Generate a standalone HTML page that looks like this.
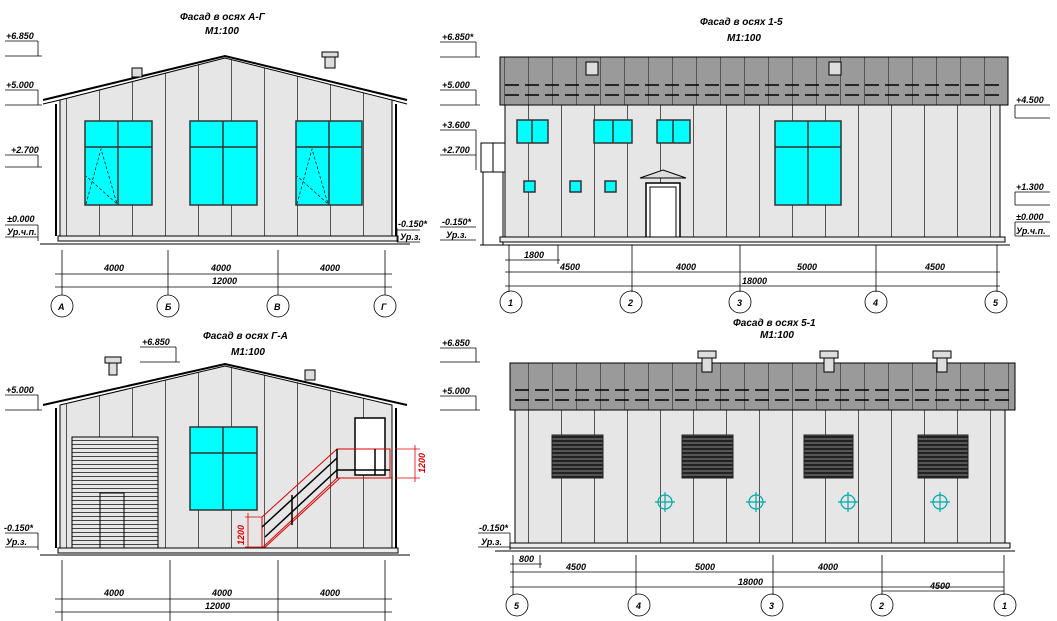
<!DOCTYPE html>
<html><head><meta charset="utf-8"><style>
html,body{margin:0;padding:0;background:#fff}
svg{display:block}
text{font-family:"Liberation Sans",sans-serif;font-style:italic;font-weight:bold;font-size:9px;fill:#000}
.t{font-size:10px}
</style></head><body>
<svg width="1057" height="621" viewBox="0 0 1057 621" xmlns="http://www.w3.org/2000/svg">
<defs>
<pattern id="pw" width="33" height="10" patternUnits="userSpaceOnUse">
<rect width="33" height="10" fill="#e6e6e6"/><line x1="0.5" y1="0" x2="0.5" y2="10" stroke="#555" stroke-width="1"/>
</pattern>
<pattern id="pr" width="24" height="60" patternUnits="userSpaceOnUse">
<rect width="24" height="60" fill="#9a9a9a"/><line x1="0.5" y1="0" x2="0.5" y2="60" stroke="#555"/>
</pattern>
<pattern id="lv" width="10" height="4" patternUnits="userSpaceOnUse">
<rect width="10" height="4" fill="#555"/><rect y="0" width="10" height="2" fill="#222"/>
</pattern>
<pattern id="rd" width="10" height="4" patternUnits="userSpaceOnUse">
<rect width="10" height="4" fill="#e6e6e6"/><line x1="0" y1="0.5" x2="10" y2="0.5" stroke="#444"/>
</pattern>
</defs>
<g stroke="#000" fill="none" stroke-width="1">

<!-- ========== TOP LEFT ========== -->
<text class="t" x="180" y="20" stroke="none">Фасад в осях А-Г</text>
<text class="t" x="205" y="34" stroke="none">М1:100</text>
<polygon points="60,100 225,58 392,100 392,238 60,238" fill="url(#pw)" stroke="#000"/>
<polyline points="43,100 225,56 407,100" stroke-width="2"/>
<line x1="43" y1="104" x2="60" y2="100"/><line x1="392" y1="100" x2="407" y2="104"/>
<line x1="56" y1="104" x2="56" y2="236" stroke-width="2"/><line x1="396" y1="104" x2="396" y2="236" stroke-width="2"/>
<rect x="132" y="68" width="10" height="9" fill="#ddd"/><rect x="325" y="56" width="10" height="12" fill="#ddd"/><rect x="322" y="52" width="16" height="5" fill="#ddd"/>
<g fill="#00ffff" stroke="#333" stroke-width="1.5">
<rect x="85" y="121" width="67" height="84"/><rect x="190" y="121" width="67" height="84"/><rect x="296" y="121" width="66" height="84"/>
</g>
<g stroke="#333" stroke-width="1.5">
<line x1="118" y1="121" x2="118" y2="205"/><line x1="85" y1="147" x2="152" y2="147"/>
<line x1="223" y1="121" x2="223" y2="205"/><line x1="190" y1="147" x2="257" y2="147"/>
<line x1="329" y1="121" x2="329" y2="205"/><line x1="296" y1="147" x2="362" y2="147"/>
</g>
<g stroke-dasharray="3,2" stroke-width="0.7"><polyline points="86,204 101,149 117,204 86,176"/><polyline points="297,204 312,149 328,204 297,176"/></g>
<rect x="58" y="236" width="340" height="5" fill="#eee"/><line x1="40" y1="244" x2="410" y2="244"/>
<!-- levels -->
<g stroke-width="0.8"><line x1="5" y1="41" x2="38" y2="41"/><line x1="38" y1="41" x2="38" y2="56"/><line x1="5" y1="56" x2="42" y2="56"/>
<line x1="5" y1="90" x2="38" y2="90"/><line x1="38" y1="90" x2="38" y2="105"/><line x1="5" y1="105" x2="42" y2="105"/>
<line x1="5" y1="155" x2="38" y2="155"/><line x1="38" y1="155" x2="38" y2="167"/><line x1="5" y1="167" x2="42" y2="167"/>
<line x1="5" y1="225" x2="38" y2="225"/><line x1="5" y1="237" x2="38" y2="237"/><line x1="38" y1="225" x2="38" y2="241"/>
<line x1="397" y1="230" x2="420" y2="230"/><line x1="397" y1="242" x2="420" y2="242"/><line x1="397" y1="228" x2="397" y2="242"/></g>
<g stroke="none"><text x="6" y="39">+6.850</text><text x="6" y="88">+5.000</text><text x="11" y="153">+2.700</text><text x="7" y="222">±0.000</text><text x="7" y="235">Ур.ч.п.</text><text x="398" y="227">-0.150*</text><text x="400" y="240">Ур.з.</text></g>
<!-- dims -->
<g stroke-width="0.8"><line x1="55" y1="274" x2="392" y2="274"/><line x1="55" y1="287" x2="392" y2="287"/>
<line x1="62" y1="250" x2="62" y2="295"/><line x1="168" y1="250" x2="168" y2="295"/><line x1="278" y1="250" x2="278" y2="295"/><line x1="385" y1="250" x2="385" y2="295"/>
<circle cx="62" cy="306" r="11"/><circle cx="168" cy="306" r="11"/><circle cx="278" cy="306" r="11"/><circle cx="385" cy="306" r="11"/></g>
<g stroke="none"><text x="104" y="271">4000</text><text x="211" y="271">4000</text><text x="320" y="271">4000</text><text x="212" y="284">12000</text>
<text x="58" y="310">А</text><text x="165" y="310">Б</text><text x="274" y="310">В</text><text x="381" y="310">Г</text></g>

<!-- ========== TOP RIGHT ========== -->
<text class="t" x="700" y="25" stroke="none">Фасад в осях 1-5</text>
<text class="t" x="727" y="41" stroke="none">М1:100</text>
<rect x="505" y="105" width="495" height="135" fill="url(#pw)"/>
<rect x="500" y="57" width="508" height="48" fill="url(#pr)"/>
<line x1="505" y1="85" x2="1005" y2="85" stroke-dasharray="14,6" stroke-width="1.5"/><line x1="505" y1="95" x2="1005" y2="95" stroke-dasharray="14,6" stroke-width="1.5"/>
<rect x="586" y="62" width="12" height="13" fill="#ddd"/><rect x="829" y="62" width="12" height="13" fill="#ddd"/>
<g fill="#00ffff" stroke="#333" stroke-width="1.5">
<rect x="517" y="120" width="31" height="23"/><rect x="594" y="120" width="38" height="23"/><rect x="657" y="120" width="33" height="23"/>
<rect x="775" y="121" width="66" height="84"/>
<rect x="524" y="181" width="11" height="11"/><rect x="570" y="181" width="11" height="11"/><rect x="605" y="181" width="11" height="11"/>
</g>
<g stroke="#333" stroke-width="1.5"><line x1="808" y1="121" x2="808" y2="205"/><line x1="775" y1="147" x2="841" y2="147"/><line x1="532" y1="120" x2="532" y2="143"/><line x1="613" y1="120" x2="613" y2="143"/><line x1="673" y1="120" x2="673" y2="143"/></g>
<rect x="646" y="183" width="34" height="57" fill="#fff" stroke-width="1.5"/><rect x="650" y="187" width="26" height="53" fill="#fff"/>
<polygon points="640,178 663,170 686,178" fill="#ddd"/>
<rect x="481" y="143" width="24" height="29" fill="#fff"/><line x1="493" y1="143" x2="493" y2="172"/><line x1="483" y1="172" x2="483" y2="245"/><line x1="503" y1="172" x2="503" y2="245"/>
<rect x="500" y="237" width="505" height="5" fill="#eee"/><line x1="480" y1="245" x2="1010" y2="245"/>
<g stroke-width="0.8">
<line x1="440" y1="42" x2="476" y2="42"/><line x1="476" y1="42" x2="476" y2="57"/><line x1="440" y1="57" x2="480" y2="57"/>
<line x1="440" y1="90" x2="476" y2="90"/><line x1="476" y1="90" x2="476" y2="105"/><line x1="440" y1="105" x2="480" y2="105"/>
<line x1="440" y1="130" x2="476" y2="130"/><line x1="440" y1="155" x2="476" y2="155"/><line x1="476" y1="130" x2="476" y2="170"/>
<line x1="440" y1="227" x2="476" y2="227"/><line x1="440" y1="240" x2="476" y2="240"/>
<line x1="1015" y1="105" x2="1050" y2="105"/><line x1="1015" y1="118" x2="1050" y2="118"/><line x1="1015" y1="105" x2="1015" y2="118"/>
<line x1="1015" y1="192" x2="1050" y2="192"/><line x1="1015" y1="205" x2="1050" y2="205"/><line x1="1015" y1="192" x2="1015" y2="205"/>
<line x1="1015" y1="222" x2="1050" y2="222"/><line x1="1015" y1="236" x2="1050" y2="236"/><line x1="1015" y1="222" x2="1015" y2="236"/>
</g>
<g stroke="none"><text x="442" y="40">+6.850*</text><text x="442" y="88">+5.000</text><text x="442" y="128">+3.600</text><text x="442" y="153">+2.700</text><text x="442" y="225">-0.150*</text><text x="446" y="238">Ур.з.</text>
<text x="1016" y="103">+4.500</text><text x="1016" y="190">+1.300</text><text x="1016" y="220">±0.000</text><text x="1016" y="234">Ур.ч.п.</text></g>
<g stroke-width="0.8"><line x1="505" y1="260" x2="560" y2="260"/><line x1="505" y1="272" x2="1000" y2="272"/><line x1="505" y1="286" x2="1000" y2="286"/>
<line x1="509" y1="245" x2="509" y2="292"/><line x1="558" y1="245" x2="558" y2="264"/><line x1="632" y1="245" x2="632" y2="292"/><line x1="740" y1="245" x2="740" y2="292"/><line x1="876" y1="245" x2="876" y2="292"/><line x1="997" y1="245" x2="997" y2="292"/>
<circle cx="511" cy="302" r="11"/><circle cx="631" cy="302" r="11"/><circle cx="740" cy="302" r="11"/><circle cx="876" cy="302" r="11"/><circle cx="996" cy="302" r="11"/></g>
<g stroke="none"><text x="524" y="258">1800</text><text x="560" y="270">4500</text><text x="676" y="270">4000</text><text x="797" y="270">5000</text><text x="925" y="270">4500</text><text x="742" y="284">18000</text>
<text x="508" y="306">1</text><text x="628" y="306">2</text><text x="737" y="306">3</text><text x="873" y="306">4</text><text x="993" y="306">5</text></g>

<!-- ========== BOTTOM LEFT ========== -->
<text class="t" x="203" y="339" stroke="none">Фасад в осях Г-А</text>
<text class="t" x="231" y="355" stroke="none">М1:100</text>
<polygon points="60,405 225,366 392,405 392,550 60,550" fill="url(#pw)"/>
<polyline points="43,405 225,364 407,405" stroke-width="2"/>
<line x1="56" y1="408" x2="56" y2="548" stroke-width="2"/><line x1="396" y1="408" x2="396" y2="548" stroke-width="2"/>
<rect x="105" y="357" width="16" height="6" fill="#ddd"/><rect x="109" y="363" width="8" height="12" fill="#ddd"/><rect x="305" y="370" width="10" height="10" fill="#ddd"/>
<rect x="72" y="437" width="86" height="111" fill="url(#rd)"/><rect x="100" y="493" width="24" height="55" fill="none"/>
<rect x="190" y="427" width="67" height="83" fill="#00ffff" stroke="#333" stroke-width="1.5"/>
<line x1="223" y1="427" x2="223" y2="510" stroke="#333" stroke-width="1.5"/><line x1="190" y1="453" x2="257" y2="453" stroke="#333" stroke-width="1.5"/>
<rect x="355" y="418" width="30" height="57" fill="#fff" stroke-width="1.5"/>
<g stroke="#d00" stroke-width="1"><polyline points="262,517 262,548 337,478 390,478 390,449 337,449 262,517"/><line x1="262" y1="550" x2="340" y2="478"/><line x1="337" y1="478" x2="392" y2="478"/></g>
<g stroke-width="1.5"><line x1="265" y1="537" x2="337" y2="470"/><line x1="337" y1="470" x2="390" y2="470"/><line x1="262" y1="527" x2="337" y2="458"/><line x1="292" y1="495" x2="292" y2="525"/><line x1="337" y1="449" x2="337" y2="478"/><line x1="375" y1="449" x2="375" y2="475"/></g>
<g stroke="#d00" stroke-width="0.8"><line x1="395" y1="449" x2="420" y2="449"/><line x1="395" y1="478" x2="420" y2="478"/><line x1="415" y1="445" x2="415" y2="482"/><line x1="245" y1="517" x2="262" y2="517"/><line x1="245" y1="547" x2="262" y2="547"/><line x1="248" y1="513" x2="248" y2="550"/></g>
<text x="0" y="0" transform="translate(425,473) rotate(-90)" style="fill:#d00" stroke="none">1200</text>
<text x="0" y="0" transform="translate(244,545) rotate(-90)" style="fill:#d00" stroke="none">1200</text>
<rect x="58" y="548" width="340" height="5" fill="#eee"/><line x1="40" y1="555" x2="410" y2="555"/>
<g stroke-width="0.8"><line x1="140" y1="347" x2="176" y2="347"/><line x1="176" y1="347" x2="176" y2="362"/><line x1="140" y1="362" x2="180" y2="362"/>
<line x1="5" y1="395" x2="38" y2="395"/><line x1="38" y1="395" x2="38" y2="410"/><line x1="5" y1="410" x2="42" y2="410"/>
<line x1="5" y1="533" x2="38" y2="533"/><line x1="5" y1="547" x2="38" y2="547"/><line x1="38" y1="533" x2="38" y2="550"/></g>
<g stroke="none"><text x="142" y="345">+6.850</text><text x="6" y="393">+5.000</text><text x="4" y="531">-0.150*</text><text x="6" y="545">Ур.з.</text></g>
<g stroke-width="0.8"><line x1="55" y1="599" x2="392" y2="599"/><line x1="55" y1="612" x2="392" y2="612"/>
<line x1="62" y1="560" x2="62" y2="621"/><line x1="170" y1="560" x2="170" y2="621"/><line x1="278" y1="560" x2="278" y2="621"/><line x1="385" y1="560" x2="385" y2="621"/></g>
<g stroke="none"><text x="104" y="596">4000</text><text x="212" y="596">4000</text><text x="320" y="596">4000</text><text x="205" y="609">12000</text></g>

<!-- ========== BOTTOM RIGHT ========== -->
<text class="t" x="733" y="326" stroke="none">Фасад в осях 5-1</text>
<text class="t" x="760" y="338" stroke="none">М1:100</text>
<rect x="515" y="410" width="490" height="135" fill="url(#pw)"/>
<rect x="510" y="363" width="505" height="47" fill="url(#pr)"/>
<line x1="515" y1="390" x2="1010" y2="390" stroke-dasharray="14,6" stroke-width="1.5"/><line x1="515" y1="400" x2="1010" y2="400" stroke-dasharray="14,6" stroke-width="1.5"/>
<g fill="#ddd"><rect x="698" y="351" width="18" height="7"/><rect x="702" y="358" width="10" height="14"/><rect x="820" y="351" width="18" height="7"/><rect x="824" y="358" width="10" height="14"/><rect x="933" y="351" width="18" height="7"/><rect x="937" y="358" width="10" height="14"/></g>
<g stroke="#222"><rect x="552" y="435" width="51" height="43" fill="url(#lv)"/><rect x="682" y="435" width="51" height="43" fill="url(#lv)"/><rect x="804" y="435" width="49" height="43" fill="url(#lv)"/><rect x="918" y="435" width="50" height="43" fill="url(#lv)"/></g>
<g stroke="#0aa" stroke-width="1.2"><circle cx="665" cy="502" r="7"/><circle cx="756" cy="502" r="7"/><circle cx="848" cy="502" r="7"/><circle cx="940" cy="502" r="7"/>
<line x1="655" y1="502" x2="675" y2="502"/><line x1="665" y1="492" x2="665" y2="512"/><line x1="746" y1="502" x2="766" y2="502"/><line x1="756" y1="492" x2="756" y2="512"/><line x1="838" y1="502" x2="858" y2="502"/><line x1="848" y1="492" x2="848" y2="512"/><line x1="930" y1="502" x2="950" y2="502"/><line x1="940" y1="492" x2="940" y2="512"/></g>
<rect x="510" y="543" width="500" height="5" fill="#eee"/><line x1="495" y1="551" x2="1015" y2="551"/>
<g stroke-width="0.8"><line x1="440" y1="348" x2="476" y2="348"/><line x1="476" y1="348" x2="476" y2="362"/><line x1="440" y1="362" x2="480" y2="362"/>
<line x1="440" y1="396" x2="476" y2="396"/><line x1="476" y1="396" x2="476" y2="410"/><line x1="440" y1="410" x2="480" y2="410"/>
<line x1="478" y1="533" x2="510" y2="533"/><line x1="478" y1="547" x2="510" y2="547"/><line x1="510" y1="533" x2="510" y2="550"/></g>
<g stroke="none"><text x="442" y="346">+6.850</text><text x="442" y="394">+5.000</text><text x="479" y="531">-0.150*</text><text x="481" y="545">Ур.з.</text></g>
<g stroke-width="0.8"><line x1="510" y1="564" x2="542" y2="564"/><line x1="510" y1="572" x2="1004" y2="572"/><line x1="510" y1="587" x2="1004" y2="587"/><line x1="882" y1="591" x2="1004" y2="591"/>
<line x1="513" y1="555" x2="513" y2="595"/><line x1="540" y1="555" x2="540" y2="568"/><line x1="636" y1="555" x2="636" y2="595"/><line x1="773" y1="555" x2="773" y2="595"/><line x1="882" y1="555" x2="882" y2="595"/><line x1="1004" y1="555" x2="1004" y2="595"/>
<circle cx="517" cy="605" r="11"/><circle cx="639" cy="605" r="11"/><circle cx="772" cy="605" r="11"/><circle cx="882" cy="605" r="11"/><circle cx="1005" cy="605" r="11"/></g>
<g stroke="none"><text x="519" y="562">800</text><text x="566" y="570">4500</text><text x="695" y="570">5000</text><text x="818" y="570">4000</text><text x="738" y="585">18000</text><text x="930" y="589">4500</text>
<text x="514" y="609">5</text><text x="636" y="609">4</text><text x="769" y="609">3</text><text x="879" y="609">2</text><text x="1002" y="609">1</text></g>
</g>
</svg>
</body></html>
